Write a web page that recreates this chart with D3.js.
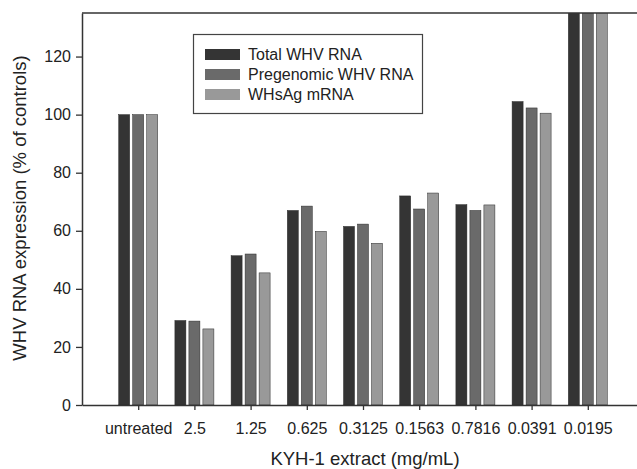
<!DOCTYPE html>
<html>
<head>
<meta charset="utf-8">
<script src="https://cdn.jsdelivr.net/npm/d3@7"></script>
<style>
  body { margin: 0; background: #fff; }
  svg { display: block; font-family: "Liberation Sans", Arial, sans-serif; }
</style>
</head>
<body>
<div id="chart"></div>
<script>

var categories = ["untreated", "2.5", "1.25", "0.625", "0.3125", "0.1563", "0.7816", "0.0391", "0.0195"];
var seriesNames = ["Total WHV RNA", "Pregenomic WHV RNA", "WHsAg mRNA"];
var totalRNA = [100, 29.1, 51.4, 67.0, 61.5, 72.0, 69.0, 104.5, 145];
var pregenomicRNA = [100, 28.9, 52.0, 68.5, 62.3, 67.5, 67.0, 102.3, 145];
var whsagRNA = [100, 26.2, 45.5, 59.8, 55.7, 73.0, 68.9, 100.5, 145];
var yTicks = [0, 20, 40, 60, 80, 100, 120];
var colors = ["#343434", "#6a6a6a", "#999999"];

var series = [totalRNA, pregenomicRNA, whsagRNA];

var width = 637, height = 469;
var marginLeft = 82, plotTop = 13, plotBottom = 405;

var svg = d3.select("#chart").append("svg")
  .attr("width", width).attr("height", height);

// categories sit at 1..9, axis runs 0..10 (right end is off the page)
var x = d3.scaleLinear().domain([0, 10]).range([marginLeft, marginLeft + 562]);
var y = d3.scaleLinear().domain([0, 135]).range([plotBottom, plotTop]);

var barW = 11, barStep = 14;

svg.append("clipPath").attr("id", "plotclip")
  .append("rect").attr("x", marginLeft).attr("y", plotTop)
  .attr("width", width - marginLeft).attr("height", plotBottom - plotTop);

var plot = svg.append("g").attr("clip-path", "url(#plotclip)");

series.forEach(function(vals, s) {
  plot.selectAll(".bar" + s)
    .data(vals)
    .enter()
    .append("rect")
    .attr("class", "bar" + s)
    .attr("x", function(d, i) { return x(i + 1) - 19.5 + s * barStep; })
    .attr("y", function(d) { return y(d); })
    .attr("width", barW)
    .attr("height", function(d) { return plotBottom - y(d); })
    .attr("fill", colors[s])
    .attr("stroke", "#2a2a2a")
    .attr("stroke-width", 0.5);
});

// top frame line
svg.append("line")
  .attr("x1", marginLeft).attr("x2", width).attr("y1", plotTop).attr("y2", plotTop)
  .attr("stroke", "#333").attr("stroke-width", 1.5);

var yaxis = svg.append("g")
  .attr("transform", "translate(" + marginLeft + ",0)")
  .call(d3.axisLeft(y).tickValues(yTicks).tickSize(6).tickSizeOuter(0).tickPadding(5));

var xaxis = svg.append("g")
  .attr("transform", "translate(0," + plotBottom + ")")
  .call(d3.axisBottom(x).tickValues(d3.range(1, 10)).tickSize(5).tickSizeOuter(0).tickPadding(13)
    .tickFormat(function(d) { return categories[d - 1]; }));

[yaxis, xaxis].forEach(function(ax) {
  ax.select(".domain").attr("stroke", "#333").attr("stroke-width", 1.5);
  ax.selectAll(".tick line").attr("stroke", "#333").attr("stroke-width", 1.3);
  ax.selectAll("text").attr("font-size", 16).attr("fill", "#222")
    .attr("font-family", "'Liberation Sans', Arial, sans-serif");
});

svg.append("text")
  .attr("x", 365).attr("y", 465)
  .attr("text-anchor", "middle")
  .attr("font-size", 18.5).attr("fill", "#222")
  .text("KYH-1 extract (mg/mL)");

svg.append("text")
  .attr("transform", "translate(26,208) rotate(-90)")
  .attr("text-anchor", "middle")
  .attr("font-size", 18.5).attr("fill", "#222")
  .text("WHV RNA expression (% of controls)");

// legend
var legend = svg.append("g");
legend.append("rect")
  .attr("x", 193.5).attr("y", 34.5).attr("width", 229).attr("height", 79)
  .attr("fill", "#fff").attr("stroke", "#444").attr("stroke-width", 1.2);

seriesNames.forEach(function(name, i) {
  legend.append("rect")
    .attr("x", 205).attr("y", 49 + i * 20).attr("width", 35).attr("height", 11)
    .attr("fill", colors[i]);
  legend.append("text")
    .attr("x", 248).attr("y", 60 + i * 20)
    .attr("font-size", 16).attr("fill", "#222")
    .text(name);
});

</script>
</body>
</html>
